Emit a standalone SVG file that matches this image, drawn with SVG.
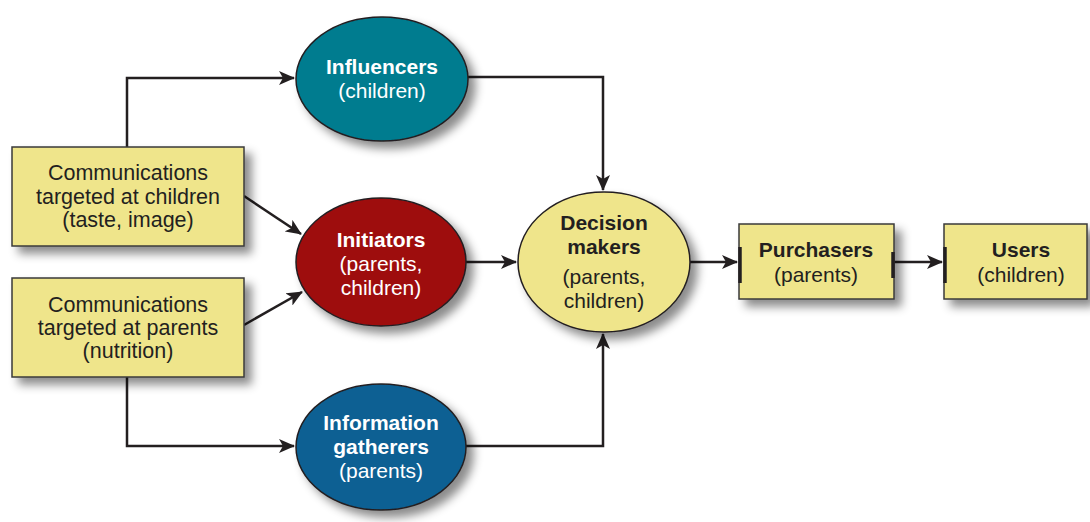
<svg xmlns="http://www.w3.org/2000/svg" width="1090" height="522" viewBox="0 0 1090 522">
<style>
.box{fill:#efe58b;stroke:#3a3a3a;stroke-width:1.5}
.ell{stroke:#231f20;stroke-width:1.5}
.c{fill:none;stroke:#231f20;stroke-width:2.5}
.t{font-family:"Liberation Sans",Arial,sans-serif;font-size:21px;text-anchor:middle}
.lg{font-size:21.5px}
.dk{fill:#231f20}
.wh{fill:#ffffff}
.b{font-weight:bold}
.stub{stroke:#231f20;stroke-width:3.5}
</style>
<defs>
<filter id="sh" x="-20%" y="-20%" width="150%" height="150%">
<feDropShadow dx="7" dy="7" stdDeviation="5" flood-color="#000" flood-opacity="0.45"/>
</filter>
<marker id="ar" markerUnits="userSpaceOnUse" markerWidth="18" markerHeight="14" refX="15" refY="7" orient="auto">
<path d="M0,0 L16,7 L0,14 L4,7 z" fill="#231f20"/>
</marker>
</defs>
<rect width="1090" height="522" fill="#ffffff"/>
<g id="connectors">
<path class="c" d="M127,147 V78 H294" marker-end="url(#ar)"/>
<path class="c" d="M127,377 V446 H294" marker-end="url(#ar)"/>
<path class="c" d="M244,196 L301,234" marker-end="url(#ar)"/>
<path class="c" d="M244,325 L302,292" marker-end="url(#ar)"/>
<path class="c" d="M466,262 H516" marker-end="url(#ar)"/>
<path class="c" d="M468,77 H603 V190" marker-end="url(#ar)"/>
<path class="c" d="M466,446 H603 V334" marker-end="url(#ar)"/>
<path class="c" d="M690,262 H737" marker-end="url(#ar)"/>
<path class="c" d="M894,262 H942" marker-end="url(#ar)"/>
</g>
<g id="comm-children">
<rect class="box" x="12" y="147" width="232" height="99" filter="url(#sh)"/>
<text class="t lg dk" x="128" y="180">Communications</text>
<text class="t lg dk" x="128" y="203.5">targeted at children</text>
<text class="t lg dk" x="128" y="227">(taste, image)</text>
</g>
<g id="comm-parents">
<rect class="box" x="12" y="278" width="232" height="99" filter="url(#sh)"/>
<text class="t lg dk" x="128" y="312">Communications</text>
<text class="t lg dk" x="128" y="335">targeted at parents</text>
<text class="t lg dk" x="128" y="358">(nutrition)</text>
</g>
<g id="influencers">
<ellipse class="ell" cx="382" cy="79" rx="86" ry="62" fill="#007b8f" filter="url(#sh)"/>
<text class="t wh b" x="382" y="74">Influencers</text>
<text class="t wh" x="382" y="98">(children)</text>
</g>
<g id="initiators">
<ellipse class="ell" cx="381" cy="262" rx="85" ry="64" fill="#9e0a10" filter="url(#sh)"/>
<text class="t wh b" x="381" y="247">Initiators</text>
<text class="t wh" x="381" y="271">(parents,</text>
<text class="t wh" x="381" y="295">children)</text>
</g>
<g id="info-gatherers">
<ellipse class="ell" cx="381" cy="447" rx="85" ry="63" fill="#0b6193" filter="url(#sh)"/>
<text class="t wh b" x="381" y="430">Information</text>
<text class="t wh b" x="381" y="454">gatherers</text>
<text class="t wh" x="381" y="478">(parents)</text>
</g>
<g id="decision-makers">
<ellipse class="ell" cx="604" cy="262" rx="86" ry="70" fill="#efe58b" filter="url(#sh)"/>
<text class="t dk b" x="604" y="230">Decision</text>
<text class="t dk b" x="604" y="254">makers</text>
<text class="t dk" x="604" y="284">(parents,</text>
<text class="t dk" x="604" y="308">children)</text>
</g>
<g id="purchasers">
<rect class="box" x="739" y="224" width="155" height="75" filter="url(#sh)"/>
<line class="stub" x1="740" y1="247" x2="740" y2="283"/>
<line class="stub" x1="893" y1="252" x2="893" y2="278"/>
<text class="t dk b" x="816" y="257">Purchasers</text>
<text class="t dk" x="816" y="282">(parents)</text>
</g>
<g id="users">
<rect class="box" x="944" y="224" width="143" height="75" filter="url(#sh)"/>
<line class="stub" x1="945" y1="247" x2="945" y2="283"/>
<text class="t dk b" x="1021" y="257">Users</text>
<text class="t dk" x="1021" y="282">(children)</text>
</g>
</svg>
